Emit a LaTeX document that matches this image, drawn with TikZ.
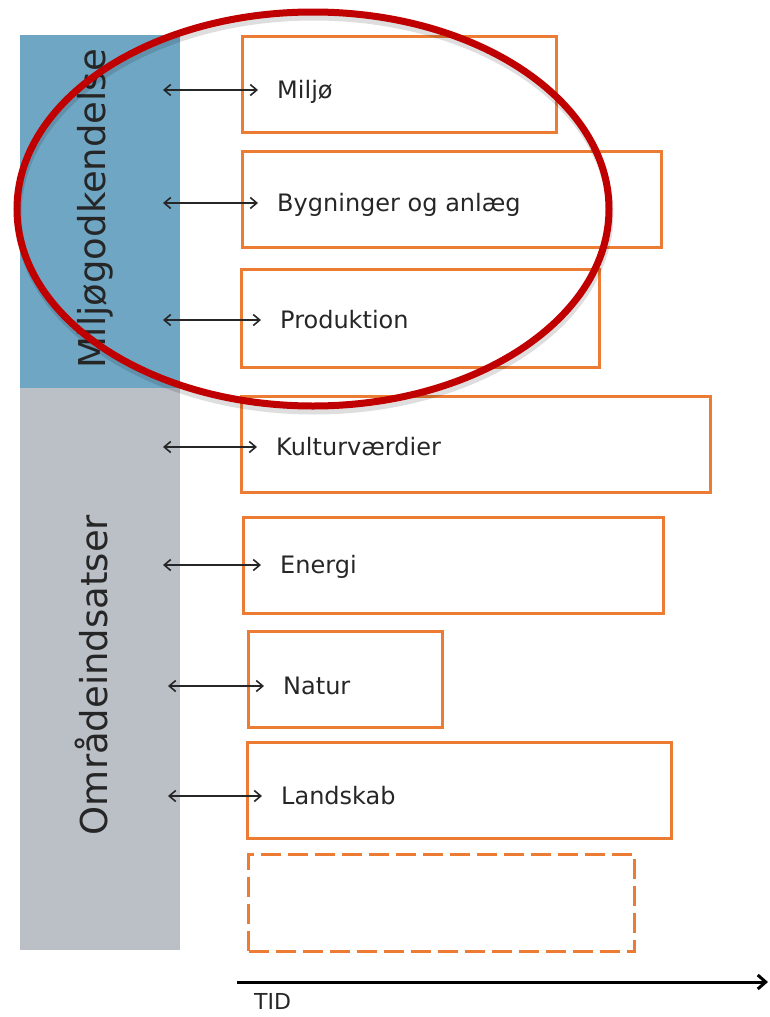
\documentclass[tikz,border=0pt]{standalone}
\usepackage{fontspec}
\setmainfont{DejaVu Sans}
\usetikzlibrary{arrows.meta,positioning}

\definecolor{bandblue}{RGB}{111,166,196}
\definecolor{bandgray}{RGB}{187,191,198}
\definecolor{boxorange}{RGB}{236,124,52}
\definecolor{ringred}{RGB}{192,0,0}
\definecolor{txtgray}{RGB}{38,38,38}

\begin{document}
\begin{tikzpicture}[x=1pt, y=-1pt,
  band/.style={rectangle, anchor=north west, inner sep=0pt, outer sep=0pt},
  area/.style={rectangle, draw=boxorange, line width=3pt, anchor=north west, inner sep=0pt},
  lbl/.style={anchor=west, text=txtgray, font=\fontsize{24}{28}\selectfont, inner xsep=19pt, inner ysep=0pt, text height=17.5pt, text depth=0pt},
  side/.style={rotate=90, text=txtgray, font=\fontsize{37}{40}\selectfont},
  link/.style={<->, line width=1.6pt, draw=txtgray},
  >={Straight Barb[length=6.5pt,width=11pt]}
]
\useasboundingbox (0,0) rectangle (769,1017);

% Side bands
\node[band, fill=bandblue, minimum width=160, minimum height=353] (blueband) at (20,35) {};
\node[band, fill=bandgray, minimum width=160, minimum height=562] (grayband) at (20,388) {};
\node[side] (miljogodk) at (95,209) {Miljøgodkendelse};
\node[side] (omraade) at (92,675) {Områdeindsatser};

% Topic boxes
\node[area, minimum width=314, minimum height=96] (miljo) at (241,35) {};
\node[area, minimum width=419, minimum height=96] (bygning) at (241,150) {};
\node[area, minimum width=358, minimum height=98] (produktion) at (240,268) {};
\node[area, minimum width=469, minimum height=96] (kultur) at (240,395) {};
\node[area, minimum width=420, minimum height=96] (energi) at (242,516) {};
\node[area, minimum width=194, minimum height=96] (natur) at (247,630) {};
\node[area, minimum width=424, minimum height=96] (landskab) at (246,741) {};
\node[area, dash pattern=on 20pt off 7pt, minimum width=386, minimum height=97] (tom) at (247,853) {};

% Labels
\node[lbl] (miljoT) at (258,90) {Miljø};
\node[lbl] (bygningT) at (258,203) {Bygninger og anlæg};
\node[lbl] (produktionT) at (261,320) {Produktion};
\node[lbl] (kulturT) at (257,447) {Kulturværdier};
\node[lbl] (energiT) at (261,565) {Energi};
\node[lbl] (naturT) at (264,686) {Natur};
\node[lbl] (landskabT) at (262,796) {Landskab};

% Arrows
\coordinate (miljoA) at (163,90);
\coordinate (bygningA) at (163,203);
\coordinate (produktionA) at (163,320);
\coordinate (kulturA) at (163,447);
\coordinate (energiA) at (163,565);
\coordinate (naturA) at (168,686);
\coordinate (landskabA) at (168,796);
\draw[link] (miljoA) -- (miljoT);
\draw[link] (bygningA) -- (bygningT);
\draw[link] (produktionA) -- (produktionT);
\draw[link] (kulturA) -- (kulturT);
\draw[link] (energiA) -- (energiT);
\draw[link] (naturA) -- (naturT);
\draw[link] (landskabA) -- (landskabT);

% Time axis
\coordinate (tid0) at (237,982);
\coordinate (tid1) at (768,982);
\draw[-{Straight Barb[length=8pt,width=14pt]}, line width=3pt] (tid0) -- (tid1);
\node[anchor=north west, inner sep=0pt, text=txtgray, font=\fontsize{22}{26}\selectfont] (tid) at (254,993) {TID};

% Red ring
\draw[black, opacity=0.13, line width=7pt] (314,214) ellipse [x radius=296pt, y radius=197pt];
\draw[ringred, line width=7pt] (313,209) ellipse [x radius=296pt, y radius=197pt];
\end{tikzpicture}
\end{document}
